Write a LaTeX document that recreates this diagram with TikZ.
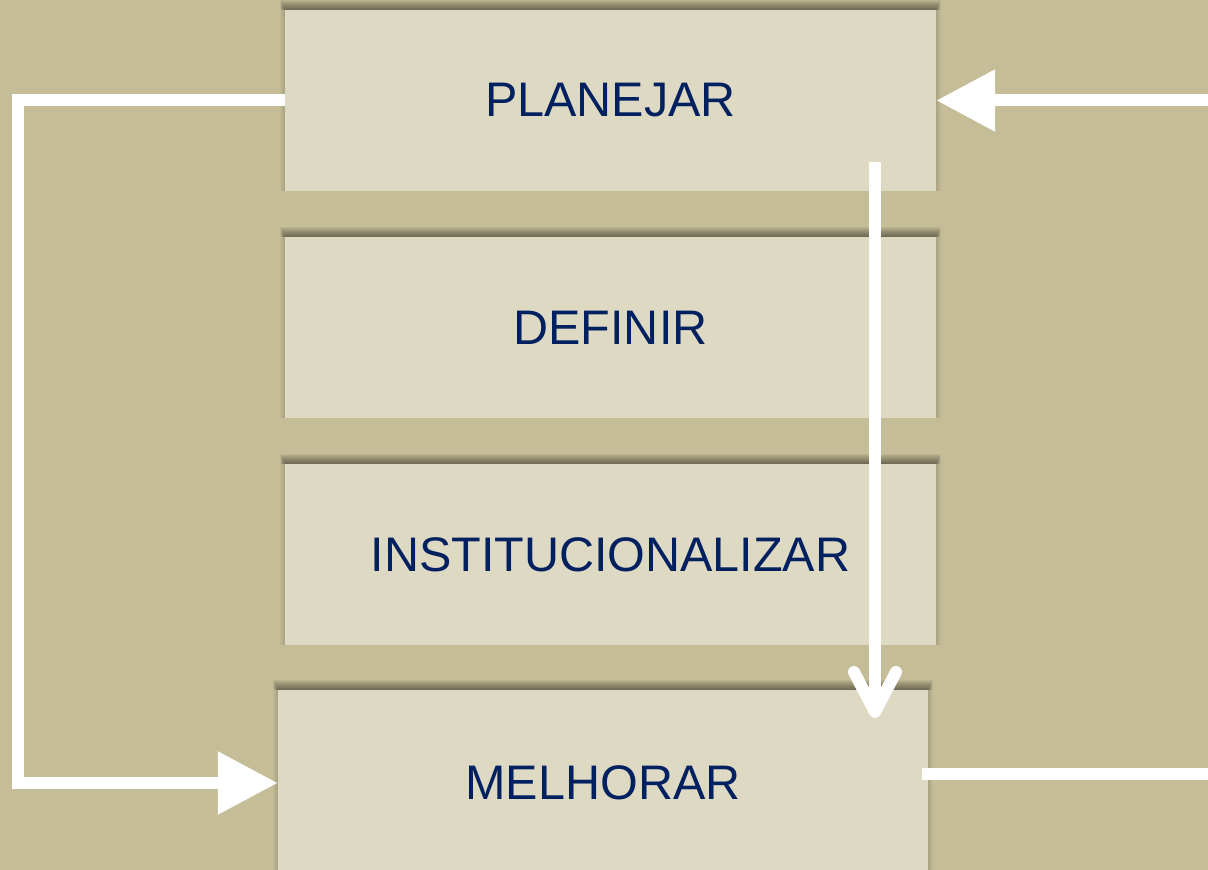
\documentclass[tikz,border=0pt]{standalone}
\usepackage{fontspec}
\setmainfont{Liberation Sans}
\usetikzlibrary{arrows.meta}
\definecolor{bgc}{HTML}{C4BD97}
\definecolor{boxc}{HTML}{DDD9C3}
\definecolor{txtc}{HTML}{002060}
\begin{document}
\begin{tikzpicture}[x=1pt,y=1pt,
  stagebox/.style={rectangle, fill=boxc, draw=none, minimum width=651pt, minimum height=181pt,
    inner sep=0pt, text=txtc, font=\fontsize{48.5}{58}\selectfont},
  shadowpiece/.style={fill=black, opacity=0.05},
  sidepiece/.style={fill=black, opacity=0.022},
  wline/.style={draw=white, line width=12pt, line join=miter}]
\fill[bgc] (0,0) rectangle (1208,870);
\useasboundingbox (0,0) rectangle (1208,870);
\node[stagebox] (P) at (610.5,769.5) {PLANEJAR};
\node[stagebox] (D) at (610.5,542.5) {DEFINIR};
\node[stagebox] (I) at (610.5,315.5) {INSTITUCIONALIZAR};
\node[stagebox, minimum width=650pt, minimum height=186pt] (M) at (603,87) {MELHORAR};
\foreach \n in {P,D,I,M}{
  \foreach \k in {1,...,10}{
    \fill[shadowpiece] ([xshift={-5pt+\k*0.5pt}]\n.north west) rectangle ([xshift={5pt-\k*0.5pt}, yshift={11pt-\k*1pt}]\n.north east);
  }
  \foreach \k in {1,...,5}{
    \fill[sidepiece] ([xshift=-\k pt]\n.south west) rectangle (\n.north west);
    \fill[sidepiece] (\n.south east) rectangle ([xshift=\k pt]\n.north east);
  }
}
\coordinate (c1) at (18,769.5);
\coordinate (c2) at (18,87);
\coordinate (r1) at (1208,769.5);
\coordinate (v1) at (875,708);
\coordinate (v2) at (875,152);
\coordinate (b1) at (922,96);
\coordinate (b2) at (1208,96);
\draw[wline, -{Triangle[length=60pt,width=60pt]}] (P.west) -- (c1) -- (c2) -- (M.west);
\draw[wline, -{Triangle[length=59pt,width=59pt]}] (r1) -- (P.east);
\draw[wline, -{Straight Barb[length=40pt,width=42pt,round]}] (v1) -- (v2);
\draw[wline] (b1) -- (b2);
\end{tikzpicture}
\end{document}
